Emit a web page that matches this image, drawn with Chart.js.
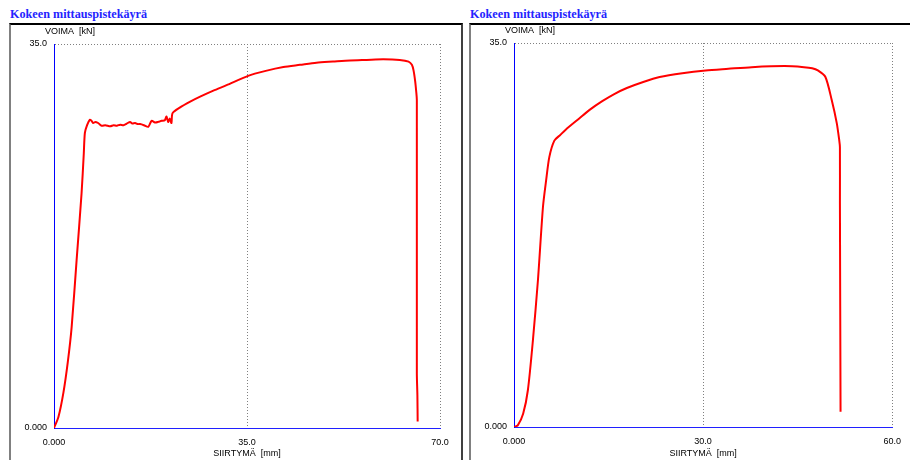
<!DOCTYPE html>
<html><head><meta charset="utf-8">
<script src="https://cdn.jsdelivr.net/npm/chart.js@4"></script>
<style>
html,body{margin:0;padding:0;background:#fff;width:910px;height:460px;overflow:hidden;position:relative;}
.title{position:absolute;top:7px;font:bold 12.2px "Liberation Serif","Times New Roman",serif;color:#2424ff;line-height:15px;white-space:nowrap;}
.panel{position:absolute;top:23px;height:460px;box-sizing:border-box;border-top:2px solid #000;}
#p1{left:9px;width:454px;border-left:2px solid #808080;border-right:2px solid #404040;}
#p2{left:469px;width:460px;border-left:2px solid #808080;}
canvas{position:absolute;}
</style></head>
<body>
<div class="title" id="t1" style="left:10px"></div>
<div class="title" id="t2" style="left:470px"></div>
<div class="panel" id="p1"></div>
<div class="panel" id="p2"></div>
<canvas id="c1" width="450" height="435" style="left:11px;top:25px"></canvas>
<canvas id="c2" width="439" height="435" style="left:471px;top:25px"></canvas>
<script>
const titleText = 'Kokeen mittauspistekäyrä';
const yTitle = 'VOIMA  [kN]';
const xTitle = 'SIIRTYMÄ  [mm]';

const leftDisp  = [0, 0.8, 1.7, 2.5, 3.2, 4.1, 5.0, 5.4, 5.6, 6.0, 6.5, 6.8, 7.1, 7.5, 8.0, 8.65, 9.3, 10.2, 10.8, 11.4, 12.0, 12.6, 13.2, 13.8, 14.2, 14.7, 15.2, 15.6, 16.3, 17.1, 17.7, 18.3, 18.9, 19.5, 20.1, 20.4, 20.7, 21.0, 21.3, 21.5, 22.8, 24.7, 26.5, 28.9, 31.3, 35.2, 38.4, 41.6, 44.6, 47.6, 50.6, 53.7, 56.7, 59.7, 62.7, 64.3, 64.9, 65.2, 65.5, 65.7, 65.8, 65.8, 65.9, 65.95];
const leftForce = [0, 1.0, 3.2, 6.0, 9.2, 15.3, 21.4, 25.0, 26.9, 27.6, 28.1, 28.0, 27.8, 27.9, 27.8, 27.55, 27.6, 27.5, 27.6, 27.55, 27.65, 27.6, 27.75, 27.9, 27.75, 27.8, 27.7, 27.7, 27.6, 27.45, 28.0, 27.85, 27.9, 28.0, 28.05, 28.4, 27.9, 28.2, 27.8, 28.7, 29.2, 29.75, 30.2, 30.75, 31.25, 32.1, 32.55, 32.9, 33.1, 33.3, 33.4, 33.5, 33.55, 33.6, 33.55, 33.4, 33.1, 32.6, 31.6, 30.6, 29.9, 5.0, 3.0, 0.6];

const rightDisp  = [0, 0.6, 1.45, 2.2, 3.0, 3.8, 4.6, 5.1, 5.6, 6.4, 7.3, 8.2, 10.3, 12.1, 14.0, 15.9, 17.9, 20.5, 23.1, 26.7, 30.4, 34.0, 37.7, 42.9, 46.0, 47.3, 48.2, 49.4, 50.4, 51.2, 51.6, 51.7, 51.7, 51.8];
const rightForce = [0, 0.15, 1.2, 3.35, 7.9, 13.4, 20.1, 22.5, 24.6, 26.1, 26.6, 27.1, 28.1, 28.95, 29.7, 30.35, 30.9, 31.45, 31.9, 32.25, 32.5, 32.65, 32.8, 32.9, 32.8, 32.7, 32.5, 31.9, 29.8, 27.7, 26.1, 25.5, 20.4, 1.4];

const leftXTicks  = [0, 35, 70];
const leftXLabels = ['0.000', '35.0', '70.0'];
const rightXTicks  = [0, 30, 60];
const rightXLabels = ['0.000', '30.0', '60.0'];
const yTicks  = [0, 35];
const yLabels = ['0.000', '35.0'];

document.getElementById('t1').textContent = titleText;
document.getElementById('t2').textContent = titleText;

const FONT = '"Liberation Sans", Arial, sans-serif';

function build(id, disp, force, xTicks, xLabels, padTop, padRight, xAxisH) {
  const pts = disp.map((x, i) => ({x: x, y: force[i]}));
  const gridColor = c => (c.tick && c.tick.value === 0) ? 'rgba(0,0,0,0)' : '#808080';
  return new Chart(document.getElementById(id), {
    type: 'line',
    data: {datasets: [{data: pts, borderColor: '#ff0000', borderWidth: 2, pointRadius: 0, tension: 0.25, fill: false}]},
    options: {
      responsive: false, animation: false, devicePixelRatio: 1,
      layout: {padding: {left: 0, top: padTop, right: padRight, bottom: 0}},
      plugins: {legend: {display: false}, tooltip: {enabled: false}},
      scales: {
        x: {
          type: 'linear', min: xTicks[0], max: xTicks[xTicks.length - 1],
          afterBuildTicks: s => { s.ticks = xTicks.map(v => ({value: v})); },
          afterFit: s => { s.height = xAxisH; },
          ticks: {autoSkip: false, maxRotation: 0, padding: 9, color: '#000', font: {family: FONT, size: 9},
                  callback: (v, i) => xLabels[i]},
          grid: {color: gridColor, lineWidth: 1, drawTicks: false},
          border: {color: '#2020ff', width: 1, dash: [1, 2]},
          title: {display: true, text: xTitle, color: '#000', font: {family: FONT, size: 9}, padding: {top: 0, bottom: 1}}
        },
        y: {
          type: 'linear', min: yTicks[0], max: yTicks[yTicks.length - 1],
          afterBuildTicks: s => { s.ticks = yTicks.map(v => ({value: v})); },
          afterFit: s => { s.width = 43; },
          ticks: {autoSkip: false, padding: 7, color: '#000', font: {family: FONT, size: 9},
                  callback: (v, i) => yLabels[i]},
          grid: {color: gridColor, lineWidth: 1, drawTicks: false},
          border: {color: '#0000ff', width: 1, dash: [1, 2]}
        }
      }
    },
    plugins: [{
      id: 'ytitle',
      afterDraw(chart) {
        const ctx = chart.ctx;
        ctx.save();
        ctx.font = '9px ' + FONT;
        ctx.fillStyle = '#000';
        ctx.textAlign = 'center';
        ctx.textBaseline = 'middle';
        ctx.fillText(yTitle, chart.chartArea.left + 16, chart.chartArea.top - 12);
        ctx.restore();
      }
    }]
  });
}

build('c1', leftDisp, leftForce, leftXTicks, leftXLabels, 19, 21, 32);
build('c2', rightDisp, rightForce, rightXTicks, rightXLabels, 18, 12, 33);
</script>
</body></html>
